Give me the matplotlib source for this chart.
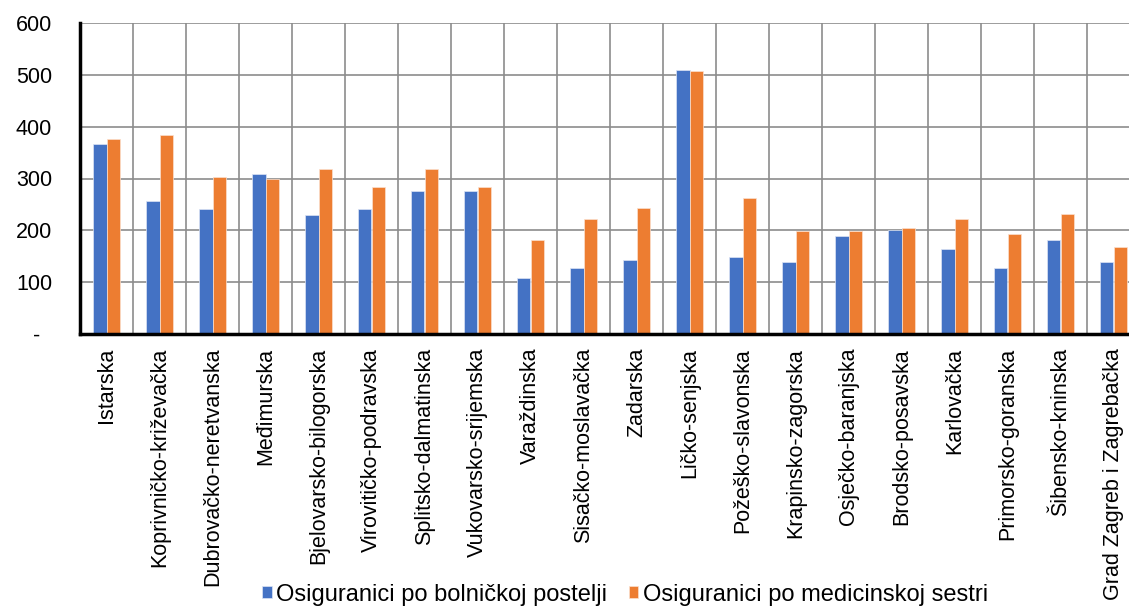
import numpy as np
import matplotlib
matplotlib.use("Agg")
import matplotlib.pyplot as plt

plt.rcParams['font.family'] = ['Liberation Sans', 'DejaVu Sans']

zupanije = ["Istarska", "Koprivničko-križevačka", "Dubrovačko-neretvanska", "Međimurska",
            "Bjelovarsko-bilogorska", "Virovitičko-podravska", "Splitsko-dalmatinska",
            "Vukovarsko-srijemska", "Varaždinska", "Sisačko-moslavačka", "Zadarska",
            "Ličko-senjska", "Požeško-slavonska", "Krapinsko-zagorska", "Osječko-baranjska",
            "Brodsko-posavska", "Karlovačka", "Primorsko-goranska", "Šibensko-kninska",
            "Grad Zagreb i Zagrebačka"]
po_postelji = [367, 256, 241, 309, 229, 241, 275, 275, 108, 127,
               142, 510, 149, 139, 189, 201, 164, 127, 182, 139]
po_sestri = [377, 383, 303, 300, 318, 284, 318, 284, 182, 222,
             244, 507, 262, 198, 198, 204, 222, 192, 232, 167]
y_ticks = [0, 100, 200, 300, 400, 500, 600]
y_labels = ["-  ", "100", "200", "300", "400", "500", "600"]

fig = plt.figure(figsize=(11.29, 6.08), dpi=100)
ax = fig.add_axes([80 / 1129, 274 / 608, 1060 / 1129, 311 / 608])

x = np.arange(len(zupanije))
w = 0.255
ax.bar(x - w / 2, po_postelji, w, color="#4472C4", edgecolor="#dce4f5", linewidth=0.5,
       label="Osiguranici po bolničkoj postelji", zorder=3)
ax.bar(x + w / 2, po_sestri, w, color="#ED7D31", edgecolor="#fbe0cf", linewidth=0.5,
       label="Osiguranici po medicinskoj sestri", zorder=3)

ax.set_xlim(-0.5, len(zupanije) - 0.5)
ax.set_ylim(0, 600)
ax.set_yticks(y_ticks)
ax.set_yticklabels(y_labels, fontsize=15.5)
ax.set_xticks(x)
ax.set_xticklabels(zupanije, rotation=90, fontsize=15.5, va="top", ha="center")
ax.set_xticks(np.arange(len(zupanije) + 1) - 0.5, minor=True)
ax.tick_params(axis="both", which="both", length=0)
ax.tick_params(axis="x", pad=10)
ax.tick_params(axis="y", pad=20)

ax.grid(axis="y", color="#8c8c8c", linewidth=1.2, zorder=0)
ax.grid(axis="x", which="minor", color="#8c8c8c", linewidth=1.2, zorder=0)
ax.grid(axis="x", which="major", visible=False)

for s in ["top", "right"]:
    ax.spines[s].set_visible(False)
ax.spines["left"].set_linewidth(2.5)
ax.spines["bottom"].set_linewidth(2.5)
ax.spines["left"].set_zorder(4)
ax.spines["bottom"].set_zorder(4)

fig.legend(loc="lower center", bbox_to_anchor=(625 / 1129, 0.0), ncol=2, frameon=False,
           prop={"size": 17}, borderaxespad=0, borderpad=0.1,
           handlelength=0.42, handleheight=0.42, handletextpad=0.2, columnspacing=0.9)

fig.savefig("out.png", dpi=100)
